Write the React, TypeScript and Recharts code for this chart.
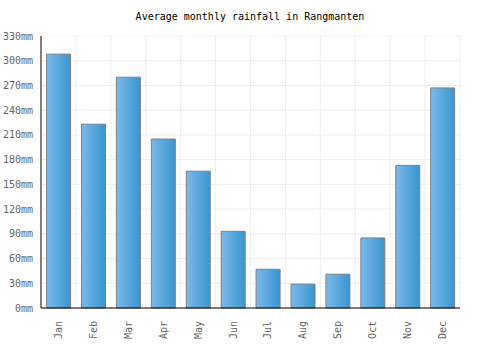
import { Bar, BarChart, CartesianGrid, XAxis, YAxis } from "recharts";

const months = ["Jan", "Feb", "Mar", "Apr", "May", "Jun", "Jul", "Aug", "Sep", "Oct", "Nov", "Dec"];
const rainfall = [308, 223, 280, 205, 166, 93, 47, 29, 41, 85, 173, 267];
const yTicks = [0, 30, 60, 90, 120, 150, 180, 210, 240, 270, 300, 330];

const data = months.map((month, i) => ({ month, rain: rainfall[i] }));

const FONT = "'DejaVu Sans Mono', monospace";

function MonthTick({ x, y, payload }: any) {
  return (
    <text
      x={0}
      y={0}
      transform={`translate(${x},${y + 5}) rotate(-90)`}
      textAnchor="end"
      dominantBaseline="central"
      fontFamily={FONT}
      fontSize={10}
      fill="#666"
    >
      {payload.value}
    </text>
  );
}

export default function App() {
  return (
    <div style={{ position: "absolute", left: 0, top: 0, width: 500, height: 350, background: "#fff" }}>
      <div
        style={{
          position: "absolute",
          top: 11,
          width: 500,
          textAlign: "center",
          fontFamily: FONT,
          fontSize: 10,
          color: "#000",
        }}
      >
        Average monthly rainfall in Rangmanten
      </div>
      <BarChart
        width={500}
        height={350}
        data={data}
        margin={{ top: 36, right: 40, left: 0, bottom: 0 }}
        barCategoryGap="16%"
      >
        <defs>
          <linearGradient id="barFill" x1="0" y1="0" x2="1" y2="0">
            <stop offset="0%" stopColor="#7bb9ea" />
            <stop offset="100%" stopColor="#3995cf" />
          </linearGradient>
        </defs>
        <CartesianGrid
          stroke="#eeeeee"
          verticalCoordinatesGenerator={({ offset }: any) =>
            months.map((_, i) => offset.left + ((i + 1) * offset.width) / months.length)
          }
        />
        <XAxis
          dataKey="month"
          height={42}
          tickLine={false}
          axisLine={{ stroke: "#000" }}
          tick={<MonthTick />}
          interval={0}
        />
        <YAxis
          width={41}
          domain={[0, 330]}
          ticks={yTicks}
          tickLine={false}
          axisLine={{ stroke: "#000" }}
          tickFormatter={(v: number) => `${v}mm`}
          tick={{ fontFamily: FONT, fontSize: 10, fill: "#666" }}
          tickMargin={2}
        />
        <Bar dataKey="rain" fill="url(#barFill)" stroke="#808080" strokeWidth={1} isAnimationActive={false} />
      </BarChart>
    </div>
  );
}
